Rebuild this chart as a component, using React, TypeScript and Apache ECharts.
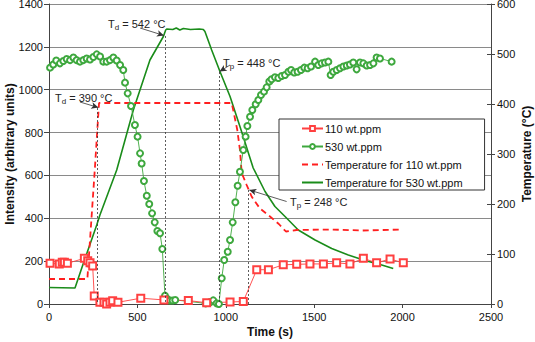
import React, { useEffect, useRef } from "react";
import * as echarts from "echarts";

const xTicks = { min: 0, max: 2500, interval: 500 };
const intensityTicks = { min: 0, max: 1400, interval: 200 };
const tempTicks = { min: 0, max: 600, interval: 100 };

const seriesNames = [
  "110 wt.ppm",
  "530 wt.ppm",
  "Temperature for 110 wt.ppm",
  "Temperature for 530 wt.ppm",
];

// [time (s), intensity]
const intensity110: [number, number][] = [
  [6, 190], [58, 187], [75, 195], [87, 195], [104, 190], [200, 213], [219, 202],
  [232, 193], [247, 177], [256, 37], [288, 8], [311, 8], [326, 0], [345, 8],
  [360, 15], [390, 8], [519, 27], [650, 19], [788, 16], [892, 6], [1024, 9],
  [1099, 12], [1175, 160], [1241, 160], [1325, 183], [1401, 185], [1476, 187],
  [1552, 187], [1627, 192], [1702, 187], [1778, 213], [1853, 192], [1929, 210],
  [2004, 192],
];

const intensity530: [number, number][] = [
  [6, 1103], [24, 1118], [41, 1136], [62, 1123], [81, 1134], [100, 1143],
  [119, 1138], [138, 1150], [156, 1138], [175, 1131], [194, 1138], [213, 1146],
  [232, 1141], [251, 1153], [270, 1165], [289, 1155], [307, 1131], [326, 1131],
  [345, 1138], [364, 1150], [383, 1136], [402, 1115], [420, 1092], [430, 1033],
  [445, 983], [464, 924], [486, 835], [501, 781], [515, 703], [524, 656],
  [537, 574], [553, 505], [567, 467], [583, 423], [598, 381], [613, 341],
  [628, 330], [641, 257], [656, 39], [669, 23], [684, 16], [699, 16], [714, 19],
  [886, 3], [901, 6], [913, 9], [929, 17], [948, 3], [961, 0], [977, 120],
  [991, 205], [1011, 244], [1024, 299], [1039, 381], [1054, 475], [1067, 552],
  [1080, 617], [1099, 719], [1112, 781], [1122, 831], [1137, 874], [1150, 905],
  [1169, 932], [1184, 952], [1199, 975], [1216, 991], [1231, 1011], [1246, 1038],
  [1259, 1049], [1278, 1058], [1297, 1055], [1316, 1064], [1335, 1069],
  [1354, 1084], [1369, 1092], [1387, 1080], [1406, 1084], [1425, 1092],
  [1444, 1103], [1463, 1100], [1482, 1108], [1505, 1131], [1523, 1115],
  [1542, 1123], [1561, 1127], [1580, 1131], [1593, 1069], [1608, 1084],
  [1627, 1092], [1646, 1100], [1665, 1108], [1684, 1113], [1702, 1118],
  [1721, 1127], [1740, 1095], [1759, 1127], [1778, 1123], [1797, 1113],
  [1816, 1115], [1835, 1123], [1853, 1150], [1872, 1146], [1938, 1131],
];

// [time (s), temperature (°C)]
const temp110: [number, number][] = [
  [0, 50], [217, 50], [260, 274], [283, 402], [1033, 402], [1042, 388],
  [1065, 348], [1080, 308], [1090, 262], [1118, 238], [1146, 215], [1193, 191],
  [1250, 175], [1300, 160], [1340, 145], [1400, 148], [1600, 149], [1770, 147],
  [2000, 149],
];

const temp530: [number, number][] = [
  [0, 33], [147, 32], [194, 81], [270, 158], [288, 178], [383, 268], [477, 388],
  [571, 488], [647, 535], [660, 548], [666, 550], [700, 549], [720, 552],
  [740, 548], [760, 551], [800, 549], [850, 550], [873, 549], [882, 545],
  [920, 508], [967, 465], [1024, 415], [1080, 355], [1155, 272], [1222, 225],
  [1278, 195], [1335, 175], [1410, 148], [1505, 128], [1599, 111], [1693, 98],
  [1787, 87], [1882, 78], [1947, 71],
];

// annotation anchors in (time, temperature)
const annotations = [
  { sub: "d", value: "390", text: [34, 413], from: [175, 404], to: [279, 393], drop: [273, 392] },
  { sub: "d", value: "542", text: [334, 561], from: [515, 552], to: [650, 537], drop: [656, 536] },
  { sub: "p", value: "448", text: [984, 483], from: [1024, 478], to: [965, 465], drop: [963, 464] },
  { sub: "p", value: "248", text: [1363, 205], from: [1344, 205], to: [1133, 228], drop: [1125, 228] },
];

const FONT = "'Liberation Sans', Arial, sans-serif";
const RED_LINE = "#ff4040";
const RED_DASH = "#ff1f1f";
const GREEN_MARK = "#3ea83e";
const GREEN_LINE = "#1a8c1a";

export default function App() {
  const ref = useRef<HTMLDivElement>(null);
  useEffect(() => {
    if (!ref.current) return;
    const chart = echarts.init(ref.current, null, { renderer: "svg" });

    const markLineData: any[] = [];
    annotations.forEach((a) => {
      markLineData.push([
        { coord: a.drop, lineStyle: { type: [2, 2], color: "#333", width: 0.8 }, symbol: "none" },
        { coord: [a.drop[0], 0], symbol: "none" },
      ]);
      markLineData.push([
        { coord: a.from, lineStyle: { type: "solid", color: "#333", width: 0.8 }, symbol: "none" },
        { coord: a.to, symbol: "arrow", symbolSize: [5, 7] },
      ]);
    });
    const markPointData = annotations.map((a) => ({
      coord: a.text,
      symbol: "circle",
      symbolSize: 0,
      label: {
        show: true,
        position: "right",
        distance: 0,
        formatter: `{t|T}{s|${a.sub}}{t| = ${a.value} °C}`,
        rich: {
          t: { fontSize: 11, fontFamily: FONT, color: "#222", lineHeight: 15 },
          s: { fontSize: 8, fontFamily: FONT, color: "#222", lineHeight: 15, verticalAlign: "bottom" },
        },
      },
    }));

    const fmt = (v: number) => String(v);
    const axisLabel = { fontSize: 11, fontFamily: FONT, color: "#111", formatter: fmt };
    const nameTextStyle = { fontSize: 12, fontWeight: "bold", fontFamily: FONT, color: "#111" };

    chart.setOption({
      animation: false,
      backgroundColor: "#fff",
      grid: { left: 49, right: 44, top: 4, bottom: 38, containLabel: false, outerBoundsMode: "none" },
      legend: {
        data: [
          { name: seriesNames[0] },
          { name: seriesNames[1] },
          { name: seriesNames[2], itemStyle: { opacity: 0 } },
          { name: seriesNames[3], itemStyle: { opacity: 0 } },
        ],
        orient: "vertical",
        left: 279,
        top: 119,
        backgroundColor: "#fff",
        borderColor: "#333",
        borderWidth: 1,
        borderRadius: 0,
        padding: [3, 22, 1, 22],
        itemWidth: 21,
        itemHeight: 6,
        itemGap: 5,
        textStyle: { fontSize: 11, fontFamily: FONT, color: "#111", lineHeight: 13, height: 13, padding: [0, 0, 0, -3] },
      },
      xAxis: {
        type: "value",
        ...xTicks,
        name: "Time (s)",
        nameLocation: "middle",
        nameGap: 22,
        nameMoveOverlap: false,
        nameTextStyle,
        axisLine: { show: true, lineStyle: { color: "#444", width: 1 } },
        axisTick: { show: true, inside: false, length: 4, lineStyle: { color: "#444" } },
        axisLabel: { ...axisLabel, margin: 7 },
        splitLine: { show: false },
      },
      yAxis: [
        {
          type: "value",
          ...intensityTicks,
          position: "left",
          name: "Intensity (arbitrary units)",
          nameLocation: "middle",
          nameGap: 33,
          nameRotate: 90,
          nameMoveOverlap: false,
          nameTextStyle,
          axisLine: { show: true, lineStyle: { color: "#444", width: 1 } },
          axisTick: { show: true, inside: false, length: 5, lineStyle: { color: "#444" } },
          axisLabel: { ...axisLabel, margin: 6 },
          splitLine: { show: true, lineStyle: { color: "#8a8a8a", width: 1 } },
        },
        {
          type: "value",
          ...tempTicks,
          position: "right",
          name: "Temperature (°C)",
          nameLocation: "middle",
          nameGap: 30,
          nameRotate: 90,
          nameMoveOverlap: false,
          nameTextStyle,
          axisLine: { show: true, lineStyle: { color: "#444", width: 1 } },
          axisTick: { show: true, inside: false, length: 4, lineStyle: { color: "#444" } },
          axisLabel: { ...axisLabel, margin: 6 },
          splitLine: { show: false },
        },
        {
          type: "value",
          ...tempTicks,
          position: "right",
          offset: 0,
          axisLine: { show: false },
          axisTick: { show: true, inside: true, length: 4, lineStyle: { color: "#444" } },
          axisLabel: { show: false },
          splitLine: { show: false },
        },
      ],
      series: [
        {
          name: seriesNames[3],
          type: "line",
          yAxisIndex: 1,
          data: temp530,
          symbol: "none",
          z: 2,
          lineStyle: { color: GREEN_LINE, width: 1.6 },
          itemStyle: { color: GREEN_LINE },
          markLine: {
            silent: true,
            symbol: ["none", "none"],
            label: { show: false },
            data: markLineData,
          },
          markPoint: { silent: true, data: markPointData },
        },
        {
          name: seriesNames[2],
          type: "line",
          yAxisIndex: 1,
          data: temp110,
          symbol: "none",
          z: 2,
          lineStyle: { color: RED_DASH, width: 1.8, type: [6, 4] },
          itemStyle: { color: RED_DASH },
        },
        {
          name: seriesNames[1],
          type: "line",
          yAxisIndex: 0,
          data: intensity530,
          symbol: "emptyCircle",
          symbolSize: 6,
          z: 3,
          lineStyle: { color: GREEN_MARK, width: 0.9 },
          itemStyle: { color: GREEN_MARK, borderWidth: 0.8 },
        },
        {
          name: seriesNames[0],
          type: "line",
          yAxisIndex: 0,
          data: intensity110,
          symbol: "emptyRect",
          symbolSize: 7,
          z: 3,
          lineStyle: { color: RED_LINE, width: 0.9 },
          itemStyle: { color: RED_LINE, borderWidth: 0.8 },
        },
      ],
    });
    return () => chart.dispose();
  }, []);
  return (
    <div
      ref={ref}
      style={{ position: "fixed", left: 0, top: 0, width: 535, height: 342 }}
    />
  );
}
